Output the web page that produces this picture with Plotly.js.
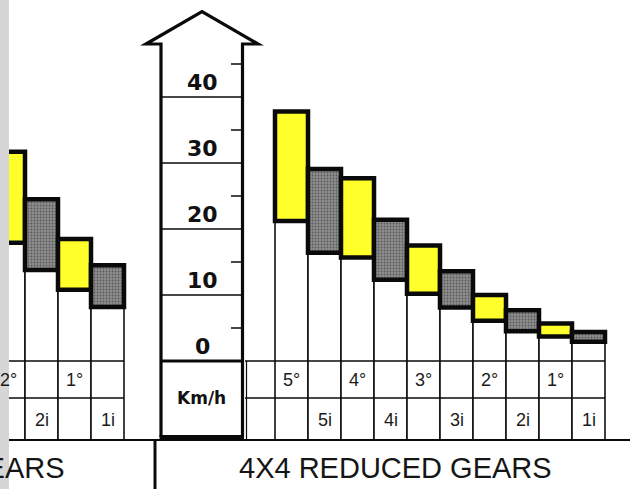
<!DOCTYPE html>
<html>
<head>
<meta charset="utf-8">
<script src="https://cdn.plot.ly/plotly-3.0.1.min.js"></script>
<style>html,body{margin:0;padding:0;background:#fff}#chart{width:630px;height:489px}</style>
</head>
<body>
<div id="chart"></div>
<script>
// ---- data (km/h speed ranges per gear) ----
const leftGears  = ["2°", "2i", "1°", "1i"];
const leftMin    = [17.9, 13.8, 10.8, 8.2];
const leftMax    = [31.7, 24.5, 18.5, 14.5];

const rightGears = ["5°", "5i", "4°", "4i", "3°", "3i", "2°", "2i", "1°", "1i"];
const rightMin   = [21.2, 16.4, 15.7, 12.3, 10.2, 8.1, 6.1, 4.5, 3.7, 2.9];
const rightMax   = [37.8, 29.1, 27.7, 21.4, 17.5, 13.6, 10.0, 7.7, 5.7, 4.4];

const scaleTicks  = [0, 10, 20, 30, 40];
const scaleLabels = ["0", "10", "20", "30", "40"];
const unitLabel   = "Km/h";
const leftTitle   = "GEARS";
const rightTitle  = "4X4 REDUCED GEARS";

// ---- layout constants ----
const W = 630, H = 489;
const ZERO_PX = 361, PX_PER_UNIT = 6.6;
const yTop = ZERO_PX / PX_PER_UNIT, yBot = (ZERO_PX - H) / PX_PER_UNIT;
const pv = p => (ZERO_PX - p) / PX_PER_UNIT;   // pixel row -> km/h
const px = x => x / W;                          // pixel column -> paper
const TABLE_BOTTOM = pv(440), ROW_LINE = pv(398), TABLE_TOP = 0;
const ROW1_Y = pv(380), ROW2_Y = pv(420);

const YELLOW = "#ffff2a", GREY = "#8e8e8e";
const isReverse = g => g.endsWith("i");

function panelTraces(gears, mins, maxs, xa) {
  const white = {
    type: "bar", x: gears.map((g, i) => i), base: mins.map(() => TABLE_BOTTOM),
    y: mins.map(m => m - TABLE_BOTTOM), width: 1, xaxis: xa, yaxis: "y",
    marker: {color: "#ffffff", line: {color: "#111", width: 1.6}},
    hoverinfo: "skip", showlegend: false
  };
  const col = {
    type: "bar", x: gears.map((g, i) => i), base: mins,
    y: maxs.map((m, i) => m - mins[i]), width: 1, xaxis: xa, yaxis: "y",
    marker: {
      color: gears.map(g => isReverse(g) ? GREY : YELLOW),
      line: {color: "#0a0a0a", width: 4.5},
      pattern: {
        shape: gears.map(g => isReverse(g) ? "." : ""),
        fgcolor: "#6a6a6a", fgopacity: 0.7, size: 3, solidity: 0.3, fillmode: "overlay"
      }
    },
    hoverinfo: "skip", showlegend: false
  };
  return [white, col];
}

const traces = [
  ...panelTraces(leftGears, leftMin, leftMax, "x"),
  ...panelTraces(rightGears, rightMin, rightMax, "x2")
];

// category column geometry (pixels): left panel first column centre 8.5, right 291.5, width 33
const COLW = 33;
const leftDomain = [0, 157.5 / W], rightDomain = [245 / W, 1];
const leftRange = [(0 - 8.5) / COLW, (157.5 - 8.5) / COLW];
const rightRange = [(245 - 291.5) / COLW, (630 - 291.5) / COLW];

const shapes = [];
const line = (x0, y0, x1, y1, w) => shapes.push({
  type: "line", xref: "paper", yref: "y", x0, y0, x1, y1,
  line: {color: "#0a0a0a", width: w}
});

// table rows
line(0, TABLE_TOP, px(124), TABLE_TOP, 1.6);
line(0, ROW_LINE, px(124), ROW_LINE, 1.6);
line(px(245), TABLE_TOP, px(605), TABLE_TOP, 1.6);
line(px(245), ROW_LINE, px(605), ROW_LINE, 1.6);
line(px(243), TABLE_BOTTOM, px(243), TABLE_TOP, 1.2);
line(px(246.5), TABLE_BOTTOM, px(246.5), TABLE_TOP, 1.2);
// baseline & divider
line(0, TABLE_BOTTOM, 1, TABLE_BOTTOM, 2);
line(px(155), TABLE_BOTTOM, px(155), yBot, 3);

// tower (arrow) outline
const tL = 161, tR = 242.5, headY = pv(44), tipY = pv(11.7), towerBot = pv(437);
shapes.push({
  type: "path", xref: "paper", yref: "y",
  path: `M ${px(tL)},${towerBot} L ${px(tL)},${headY} L ${px(146)},${headY} L ${px(202)},${tipY} ` +
        `L ${px(258)},${headY} L ${px(tR)},${headY} L ${px(tR)},${towerBot}`,
  line: {color: "#0a0a0a", width: 3.2}
});
line(px(159.5), towerBot, px(244), towerBot, 4);
scaleTicks.forEach(v => {
  line(px(tL), v, px(tR), v, v === 0 ? 3 : 1.4);
  line(px(231), v + 5, px(tR), v + 5, 1.5);
});
// scanner shadow strip at left edge
shapes.push({type: "rect", xref: "paper", yref: "paper", x0: 0, x1: px(9), y0: 0, y1: 1,
  fillcolor: "#d6d6d6", line: {width: 0}, layer: "above"});

const annotations = [];
scaleTicks.forEach((v, i) => annotations.push({
  xref: "paper", yref: "y", x: px(202), y: v + 2.2, text: scaleLabels[i], showarrow: false,
  font: {family: "DejaVu Sans", size: 22, weight: "bold", color: "#111"}, xanchor: "center", yanchor: "middle"
}));
annotations.push({xref: "paper", yref: "y", x: px(201.5), y: pv(398), text: unitLabel,
  showarrow: false, xanchor: "center", yanchor: "middle",
  font: {family: "DejaVu Sans", size: 17, weight: "bold", color: "#111"}});

function gearLabels(gears, xa) {
  gears.forEach((g, i) => annotations.push({
    xref: xa, yref: "y", x: i, y: isReverse(g) ? ROW2_Y : ROW1_Y, text: g, showarrow: false,
    font: {family: "Liberation Sans", size: 18, color: "#1a1a1a"}, xanchor: "center", yanchor: "middle"
  }));
}
gearLabels(leftGears, "x");
gearLabels(rightGears, "x2");

annotations.push({xref: "paper", yref: "y", x: px(395.5), y: pv(468), text: rightTitle, showarrow: false,
  font: {family: "Liberation Sans", size: 29, color: "#151515"}, xanchor: "center", yanchor: "middle"});
annotations.push({xref: "paper", yref: "y", x: px(67), y: pv(468), text: leftTitle, showarrow: false,
  font: {family: "Liberation Sans", size: 29, color: "#151515"}, xanchor: "right", yanchor: "middle"});

const hidden = {visible: false, showgrid: false, zeroline: false, fixedrange: true};
const layout = {
  width: W, height: H, margin: {l: 0, r: 0, t: 0, b: 0, pad: 0},
  paper_bgcolor: "#ffffff", plot_bgcolor: "rgba(0,0,0,0)",
  barmode: "overlay", bargap: 0, showlegend: false,
  xaxis:  Object.assign({}, hidden, {type: "category", domain: leftDomain, range: leftRange, anchor: "y"}),
  xaxis2: Object.assign({}, hidden, {type: "category", domain: rightDomain, range: rightRange, anchor: "y"}),
  yaxis:  Object.assign({}, hidden, {range: [yBot, yTop]}),
  shapes, annotations
};

Plotly.newPlot("chart", traces, layout, {displayModeBar: false, staticPlot: true});
</script>
</body>
</html>
